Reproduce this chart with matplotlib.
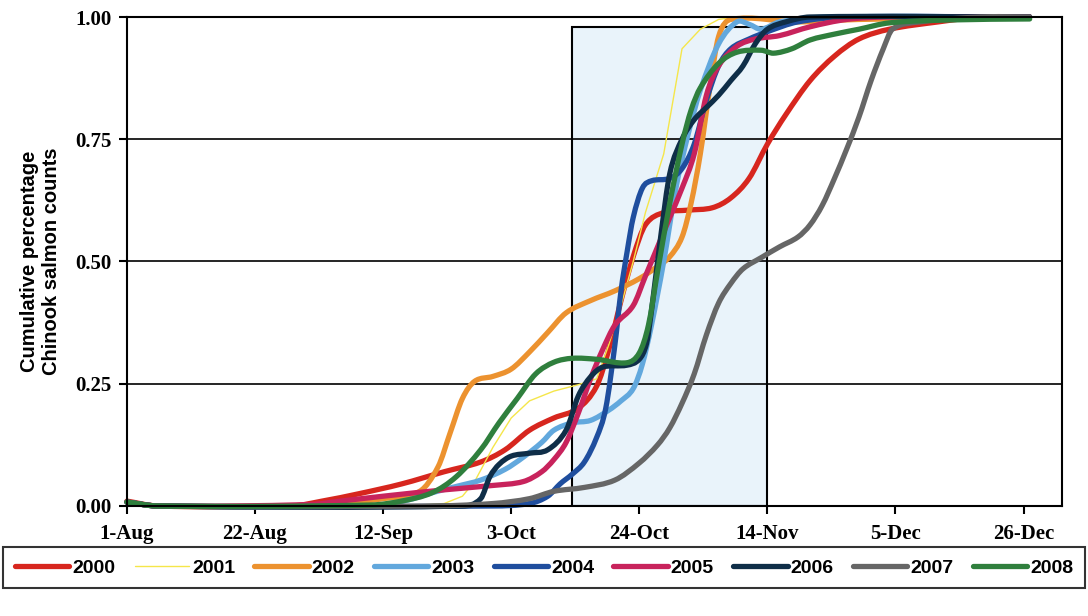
import matplotlib
matplotlib.use("Agg")
import matplotlib.pyplot as plt
from matplotlib.patches import Rectangle, PathPatch
from matplotlib.path import Path
from matplotlib.lines import Line2D

# days counted from 1-Aug
years = ["2000", "2001", "2002", "2003", "2004", "2005", "2006", "2007", "2008"]

d2000 = [0, 5, 27, 32, 38, 45, 52, 58, 62, 66, 70, 74, 77, 79, 81, 83, 85, 88, 92, 96, 99, 102, 105, 108, 112, 116, 120, 125, 133, 140, 148]
v2000 = [0.01, 0.0, 0.0, 0.01, 0.025, 0.045, 0.07, 0.09, 0.115, 0.155, 0.18, 0.2, 0.245, 0.32, 0.42, 0.51, 0.575, 0.6, 0.605, 0.61, 0.63, 0.67, 0.74, 0.8, 0.87, 0.92, 0.955, 0.975, 0.99, 1.0, 1.0]

d2001 = [0, 5, 45, 52, 55, 57, 60, 63, 66, 70, 74, 77, 79, 81, 83, 85, 88, 91, 94, 97, 100, 148]
v2001 = [0.008, 0.0, 0.0, 0.005, 0.02, 0.05, 0.12, 0.18, 0.215, 0.235, 0.248, 0.26, 0.33, 0.41, 0.5, 0.6, 0.72, 0.935, 0.975, 0.995, 1.0, 1.0]

d2002 = [0, 5, 28, 35, 42, 48, 51, 53, 55, 57, 60, 63, 66, 69, 72, 76, 80, 84, 87, 89, 91, 92.5, 94, 95.5, 97, 99, 110, 120, 148]
v2002 = [0.008, 0.0, 0.0, 0.005, 0.015, 0.03, 0.08, 0.15, 0.22, 0.255, 0.265, 0.28, 0.315, 0.355, 0.395, 0.42, 0.44, 0.465, 0.49, 0.51, 0.55, 0.62, 0.72, 0.85, 0.96, 0.995, 0.99, 0.995, 1.0]

d2003 = [0, 5, 40, 46, 50, 54, 58, 62, 65, 68, 70, 73, 76, 79, 81, 83, 84.5, 86, 88, 90, 92, 94, 97, 100, 102, 104, 107, 115, 148]
v2003 = [0.008, 0.0, 0.0, 0.012, 0.027, 0.04, 0.053, 0.075, 0.1, 0.13, 0.155, 0.17, 0.175, 0.196, 0.215, 0.24, 0.29, 0.37, 0.5, 0.65, 0.76, 0.85, 0.945, 0.99, 0.985, 0.975, 0.99, 1.0, 1.0]

d2004 = [0, 5, 60, 66, 69, 71, 73, 75, 77, 78.5, 80, 81, 82, 83, 84.5, 86, 89, 91, 93, 95, 97, 99, 102, 105, 110, 118, 148]
v2004 = [0.008, 0.0, 0.0, 0.005, 0.02, 0.045, 0.065, 0.09, 0.14, 0.2, 0.33, 0.44, 0.52, 0.59, 0.65, 0.665, 0.67, 0.69, 0.74, 0.83, 0.9, 0.935, 0.955, 0.97, 0.99, 1.0, 1.0]

d2005 = [0, 5, 30, 35, 42, 52, 60, 65, 68, 70, 72, 74, 76, 78, 80, 83, 85, 87, 89, 91, 93, 95, 97, 100, 103, 107, 112, 118, 125, 148]
v2005 = [0.008, 0.0, 0.003, 0.01, 0.02, 0.033, 0.042, 0.05, 0.07, 0.095, 0.13, 0.19, 0.26, 0.32, 0.37, 0.41, 0.47, 0.53, 0.59, 0.65, 0.72, 0.84, 0.9, 0.94, 0.955, 0.962, 0.98, 0.995, 1.0, 1.0]

d2006 = [0, 5, 55, 58, 59.5, 61, 63, 66, 69, 72, 74, 76, 78, 82, 84, 85.2, 86, 87.5, 89, 91, 93, 95, 97, 99, 101, 103, 105, 108, 112, 148]
v2006 = [0.008, 0.0, 0.0, 0.015, 0.06, 0.085, 0.102, 0.108, 0.115, 0.155, 0.225, 0.264, 0.284, 0.288, 0.3, 0.333, 0.4, 0.55, 0.68, 0.75, 0.79, 0.815, 0.84, 0.87, 0.9, 0.945, 0.975, 0.99, 1.0, 1.0]

d2007 = [0, 5, 50, 60, 66, 70, 75, 80, 84, 87, 89, 91, 93, 95, 97, 99, 101, 104, 107, 110, 112, 114, 116, 118, 120, 122, 124, 125.5, 130, 140, 148]
v2007 = [0.008, 0.0, 0.0, 0.005, 0.015, 0.03, 0.038, 0.053, 0.088, 0.125, 0.16, 0.21, 0.27, 0.35, 0.415, 0.455, 0.485, 0.508, 0.53, 0.55, 0.575, 0.615, 0.67, 0.73, 0.795, 0.87, 0.935, 0.975, 0.99, 1.0, 1.0]

d2008 = [0, 5, 40, 45, 50, 54, 58, 61, 64, 67, 70, 73, 77, 82, 84, 85.5, 87, 89, 91, 92.5, 94, 97, 100, 104, 106, 109, 112, 116, 120, 125, 135, 148]
v2008 = [0.008, 0.0, 0.002, 0.01, 0.027, 0.06, 0.115, 0.17, 0.22, 0.27, 0.294, 0.302, 0.3, 0.293, 0.313, 0.37, 0.48, 0.62, 0.74, 0.81, 0.855, 0.905, 0.928, 0.932, 0.926, 0.935, 0.953, 0.965, 0.975, 0.988, 0.994, 0.996]

days = [d2000, d2001, d2002, d2003, d2004, d2005, d2006, d2007, d2008]
vals = [v2000, v2001, v2002, v2003, v2004, v2005, v2006, v2007, v2008]
colors = ["#d7261e", "#f5e64a", "#ec922f", "#62a8dd", "#1f4e9e",
          "#c8235c", "#0f2e48", "#666666", "#2f7f3d"]
widths = [3.8, 1.0, 3.8, 3.8, 3.8, 3.8, 3.8, 3.8, 3.8]
smooth = [True, False, True, True, True, True, True, True, True]

tick_days = [0, 21, 42, 63, 84, 105, 126, 147]
tick_labels = ["1-Aug", "22-Aug", "12-Sep", "3-Oct", "24-Oct", "14-Nov", "5-Dec", "26-Dec"]
y_ticks = [0.0, 0.25, 0.5, 0.75, 1.0]

# highlighted window (13-Oct .. 14-Nov)
win_start, win_end, win_top = 73, 105, 0.98


def smooth_path(x, y):
    # Excel-like smoothed line: cubic Bezier segments through the data points
    n = len(x)
    slopes = []
    for i in range(n):
        a, b = max(i - 1, 0), min(i + 1, n - 1)
        slopes.append((y[b] - y[a]) / (x[b] - x[a]))
    verts = [(x[0], y[0])]
    codes = [Path.MOVETO]
    for i in range(n - 1):
        h = (x[i + 1] - x[i]) / 3
        verts += [(x[i] + h, y[i] + slopes[i] * h),
                  (x[i + 1] - h, y[i + 1] - slopes[i + 1] * h),
                  (x[i + 1], y[i + 1])]
        codes += [Path.CURVE4] * 3
    return Path(verts, codes)


fig = plt.figure(figsize=(10.88, 6.16), dpi=100)
ax = fig.add_axes([0.1167, 0.1786, 0.8594, 0.7938])
ax.set_xlim(0, 153.3)
ax.set_ylim(0, 1.0)

for yv in y_ticks:
    ax.axhline(yv, color="black", lw=1.2, zorder=1)

ax.add_patch(Rectangle((win_start, 0), win_end - win_start, win_top,
                       facecolor="#e9f3fa", edgecolor="black", lw=1.5, zorder=0.5))

handles = []
for yr, d, v, c, w, sm in zip(years, days, vals, colors, widths, smooth):
    if sm:
        ax.add_patch(PathPatch(smooth_path(d, v), facecolor="none", edgecolor=c,
                               lw=w, capstyle="round", joinstyle="round",
                               zorder=2, clip_on=False))
    else:
        ax.plot(d, v, color=c, lw=w, zorder=2, clip_on=False)
    handles.append(Line2D([], [], color=c, lw=w, solid_capstyle="round", label=yr))

for s in ax.spines.values():
    s.set_color("black")
    s.set_linewidth(1.5)

ax.set_xticks(tick_days)
ax.set_xticklabels(tick_labels)
ax.set_yticks(y_ticks)
ax.set_yticklabels([f"{t:.2f}" for t in y_ticks])
ax.tick_params(axis="both", direction="out", length=6, width=1.5, color="black")
for lab in ax.get_xticklabels() + ax.get_yticklabels():
    lab.set_family("Liberation Serif")
    lab.set_fontweight("bold")
    lab.set_fontsize(15)
ax.tick_params(axis="x", pad=7)
ax.tick_params(axis="y", pad=5)

ax.set_ylabel("Cumulative percentage\nChinook salmon counts", fontsize=14.5,
              fontweight="bold", family="Liberation Sans", labelpad=10)

leg = fig.legend(handles=handles, loc="lower left",
                 bbox_to_anchor=(0.003, 0.045, 0.994, 0.068),
                 mode="expand", ncol=9, frameon=True, fancybox=False,
                 handlelength=2.8, handletextpad=0.15, borderaxespad=0,
                 borderpad=0.6,
                 prop={"family": "Liberation Sans", "weight": "bold", "size": 14})
leg.get_frame().set_edgecolor("black")
leg.get_frame().set_linewidth(1.5)

fig.savefig("out.png", dpi=100, facecolor="white")
